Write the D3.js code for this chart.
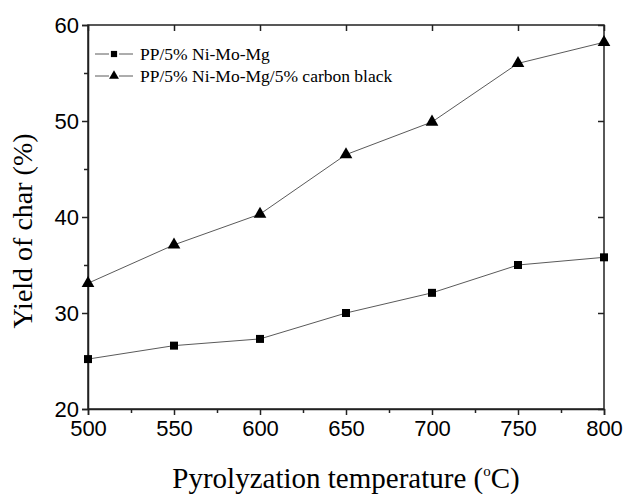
<!DOCTYPE html>
<html>
<head>
<meta charset="utf-8">
<script src="https://cdn.jsdelivr.net/npm/d3@7"></script>
<style>
  body { margin: 0; background: #fff; }
  .tick text { font-family: "Liberation Sans", Arial, sans-serif; font-size: 22px; fill: #000; }
</style>
</head>
<body>
<div id="container"></div>
<script>
const WIDTH = 624;
const HEIGHT = 494;
const MARGIN = { TOP: 25, BOTTOM: 85, LEFT: 88, RIGHT: 20 };

const width = WIDTH - MARGIN.LEFT - MARGIN.RIGHT;
const height = HEIGHT - MARGIN.TOP - MARGIN.BOTTOM;

const temperatures = [500, 550, 600, 650, 700, 750, 800];
const yieldNoCarbon = [25.2, 26.6, 27.3, 30.0, 32.1, 35.0, 35.8];
const yieldCarbon = [33.1, 37.1, 40.3, 46.5, 49.9, 56.0, 58.2];
const seriesNames = ['PP/5% Ni-Mo-Mg', 'PP/5% Ni-Mo-Mg/5% carbon black'];
const xTicks = [500, 550, 600, 650, 700, 750, 800];
const yTicks = [20, 30, 40, 50, 60];

const series = [
  { name: seriesNames[0], values: yieldNoCarbon, symbol: d3.symbolSquare, size: 64 },
  { name: seriesNames[1], values: yieldCarbon, symbol: d3.symbolTriangle, size: 70 }
];

const svg = d3.select('#container')
  .append('svg')
    .attr('width', WIDTH)
    .attr('height', HEIGHT);

const g = svg.append('g')
  .attr('transform', `translate(${MARGIN.LEFT}, ${MARGIN.TOP})`);

const xscale = d3.scaleLinear().domain([500, 800]).range([0, width]);
const yscale = d3.scaleLinear().domain([20, 60]).range([height, 0]);

// bottom / left axes: outward ticks with labels, plus minor ticks
g.append('g')
  .attr('transform', `translate(0, ${height})`)
  .call(d3.axisBottom(xscale).tickValues(xTicks).tickSize(6).tickPadding(5));
g.append('g')
  .attr('transform', `translate(0, ${height})`)
  .call(d3.axisBottom(xscale).tickValues(d3.range(525, 800, 50)).tickSize(4).tickFormat(''))
  .select('.domain').remove();

g.append('g')
  .call(d3.axisLeft(yscale).tickValues(yTicks).tickSize(6).tickPadding(3));
g.append('g')
  .call(d3.axisLeft(yscale).tickValues(d3.range(25, 60, 10)).tickSize(4).tickFormat(''))
  .select('.domain').remove();

// top / right axes: inward ticks, no labels
g.append('g')
  .call(d3.axisBottom(xscale).tickValues(xTicks).tickSize(6).tickFormat(''))
  .select('.domain').remove();
g.append('g')
  .attr('transform', `translate(${width}, 0)`)
  .call(d3.axisLeft(yscale).tickValues(yTicks).tickSize(6).tickFormat(''))
  .select('.domain').remove();

g.append('rect')
  .attr('width', width)
  .attr('height', height)
  .attr('fill', 'none')
  .attr('stroke', '#222')
  .attr('stroke-width', 1.5);

g.selectAll('.tick line').attr('stroke', '#222').attr('stroke-width', 1.5);
g.selectAll('.domain').attr('stroke', '#222').attr('stroke-width', 1.5);

const line = d3.line()
  .x((d, i) => xscale(temperatures[i]))
  .y(d => yscale(d));

series.forEach(s => {
  g.append('path')
    .datum(s.values)
    .attr('d', line)
    .attr('fill', 'none')
    .attr('stroke', '#5a5a5a')
    .attr('stroke-width', 1);

  g.selectAll(null)
    .data(s.values)
    .enter()
    .append('path')
      .attr('d', d3.symbol().type(s.symbol).size(s.size))
      .attr('transform', (d, i) => `translate(${xscale(temperatures[i])}, ${yscale(d)})`)
      .attr('fill', '#000');
});

// legend
const legend = g.append('g').attr('transform', 'translate(7, 29)');
series.forEach((s, i) => {
  const row = legend.append('g').attr('transform', `translate(0, ${i * 22})`);
  row.append('line').attr('x1', 0).attr('x2', 14).attr('stroke', '#5a5a5a');
  row.append('line').attr('x1', 24).attr('x2', 38).attr('stroke', '#5a5a5a');
  row.append('path')
    .attr('d', d3.symbol().type(s.symbol).size(s.size * 0.6))
    .attr('transform', 'translate(19, 0)')
    .attr('fill', '#000');
  row.append('text')
    .attr('x', 45)
    .attr('y', 5.5)
    .attr('font-family', '"Liberation Serif", "Times New Roman", serif')
    .attr('font-size', 17.5)
    .text(s.name);
});

// axis titles
svg.append('text')
  .attr('x', 346)
  .attr('y', 488)
  .attr('text-anchor', 'middle')
  .attr('font-family', '"Liberation Serif", "Times New Roman", serif')
  .attr('font-size', 29)
  .html('Pyrolyzation temperature (<tspan dy="-12" font-size="15">o</tspan><tspan dy="12">C)</tspan>');

svg.append('text')
  .attr('transform', `translate(32, 231) rotate(-90)`)
  .attr('text-anchor', 'middle')
  .attr('font-family', '"Liberation Serif", "Times New Roman", serif')
  .attr('font-size', 28)
  .text('Yield of char (%)');
</script>
</body>
</html>
